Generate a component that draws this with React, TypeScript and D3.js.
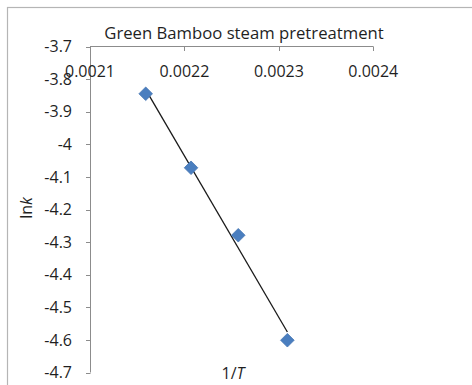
import React from "react";
import * as d3 from "d3";

const title = "Green Bamboo steam pretreatment";
const invT = [0.002159, 0.002207, 0.002257, 0.002309];
const lnk = [-3.845, -4.072, -4.279, -4.601];
const xTicks = [0.0021, 0.0022, 0.0023, 0.0024];
const yTicks = [-3.7, -3.8, -3.9, -4, -4.1, -4.2, -4.3, -4.4, -4.5, -4.6, -4.7];

const W = 472;
const H = 385;
const FONT = "'Open Sans', sans-serif";

export default function App() {
  const x = d3.scaleLinear().domain([0.0021, 0.0024]).range([90, 373.3]);
  const y = d3.scaleLinear().domain([-3.7, -4.7]).range([46.5, 372.5]);

  const mx = d3.mean(invT)!;
  const my = d3.mean(lnk)!;
  const sxy = d3.sum(invT.map((v, i) => (v - mx) * (lnk[i] - my)));
  const sxx = d3.sum(invT.map((v) => (v - mx) ** 2));
  const slope = sxy / sxx;
  const icpt = my - slope * mx;
  const x0 = d3.min(invT)!;
  const x1 = d3.max(invT)!;
  const line = d3.line<number>().x((d) => x(d)).y((d) => y(slope * d + icpt));

  const axisColor = "#8c8c8c";
  const textColor = "#1f1f1f";
  const d = 6.8;

  return (
    <svg
      width={W}
      height={H}
      style={{ position: "absolute", left: 0, top: 0, background: "#fff" }}
    >
      <rect x={7.5} y={7.5} width={W + 10} height={H + 10} fill="#fff" stroke="#b5b5b5" strokeWidth={1.2} />
      <text x={244} y={39} textAnchor="middle" fontFamily={FONT} fontSize={16.7} fill={textColor}>
        {title}
      </text>
      {/* y axis */}
      <line x1={90.5} x2={90.5} y1={y(-3.7)} y2={y(-4.7)} stroke={axisColor} strokeWidth={1} />
      {yTicks.map((t) => (
        <g key={"y" + t}>
          <line x1={86} x2={90.5} y1={Math.round(y(t)) + 0.5} y2={Math.round(y(t)) + 0.5} stroke={axisColor} />
          <text x={72} y={y(t)} dy="0.35em" textAnchor="end" fontFamily={FONT} fontSize={16} fill={textColor}>
            {d3.format(".1f")(t).replace(".0", "").replace("−", "-")}
          </text>
        </g>
      ))}
      {/* x axis at top */}
      <line x1={90} x2={x(0.0024)} y1={46.5} y2={46.5} stroke={axisColor} strokeWidth={1} />
      {xTicks.map((t) => (
        <g key={"x" + t}>
          <line x1={Math.round(x(t)) + 0.5} x2={Math.round(x(t)) + 0.5} y1={46.5} y2={51} stroke={axisColor} />
          <text x={x(t)} y={77} textAnchor="middle" fontFamily={FONT} fontSize={16} fill={textColor}>
            {d3.format(".4f")(t)}
          </text>
        </g>
      ))}
      {/* trendline */}
      <path d={line([x0, x1]) || ""} stroke="#1a1a1a" strokeWidth={1.3} fill="none" />
      {/* markers */}
      {invT.map((v, i) => {
        const cx = x(v);
        const cy = y(lnk[i]);
        return (
          <path
            key={"m" + i}
            d={`M${cx},${cy - d}L${cx + d},${cy}L${cx},${cy + d}L${cx - d},${cy}Z`}
            fill="#4a7ebf"
            stroke="#4676b3"
            strokeWidth={0.8}
          />
        );
      })}
      {/* axis titles */}
      <text
        transform="translate(32,208) rotate(-90)"
        textAnchor="middle"
        fontFamily={FONT}
        fontSize={16}
        fill={textColor}
      >
        ln<tspan fontStyle="italic">k</tspan>
      </text>
      <text x={233} y={379} textAnchor="middle" fontFamily={FONT} fontSize={16} fill={textColor}>
        1/<tspan fontStyle="italic">T</tspan>
      </text>
    </svg>
  );
}
